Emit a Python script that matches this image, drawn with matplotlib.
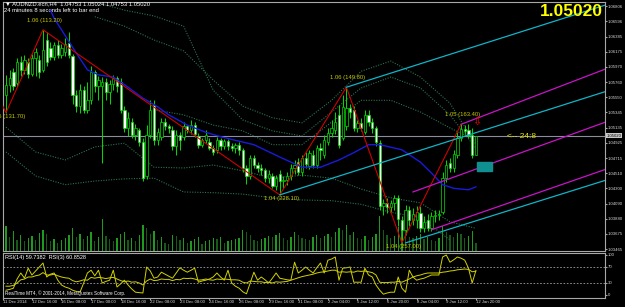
import numpy as np
import matplotlib.pyplot as plt
from matplotlib.patches import Rectangle

plt.rcParams['font.family'] = ['Liberation Sans', 'DejaVu Sans']

# AUDNZD H4 candles, one value per bar
opens = [
    1.0558, 1.0572, 1.0590, 1.0575, 1.0604, 1.0593, 1.0604, 1.0587, 1.0609, 1.0606,
    1.0593, 1.0634, 1.0623, 1.0611, 1.0627, 1.0613, 1.0617, 1.0630, 1.0612, 1.0558,
    1.0543, 1.0565, 1.0538, 1.0551, 1.0590, 1.0571, 1.0571, 1.0576, 1.0562, 1.0573,
    1.0582, 1.0576, 1.0538, 1.0513, 1.0521, 1.0503, 1.0510, 1.0494, 1.0447, 1.0503,
    1.0544, 1.0496, 1.0501, 1.0521, 1.0515, 1.0510, 1.0488, 1.0503, 1.0501, 1.0515,
    1.0510, 1.0517, 1.0502, 1.0490, 1.0496, 1.0494, 1.0485, 1.0483, 1.0496, 1.0488,
    1.0495, 1.0488, 1.0485, 1.0490, 1.0483, 1.0458, 1.0447, 1.0472, 1.0462, 1.0458,
    1.0455, 1.0444, 1.0447, 1.0433, 1.0450, 1.0440, 1.0441, 1.0447, 1.0458, 1.0466,
    1.0452, 1.0472, 1.0461, 1.0476, 1.0462, 1.0485, 1.0476, 1.0494, 1.0506, 1.0510,
    1.0531, 1.0499, 1.0515, 1.0540, 1.0538, 1.0513, 1.0520, 1.0507, 1.0531, 1.0521,
    1.0513, 1.0492, 1.0406, 1.0410, 1.0404, 1.0410, 1.0417, 1.0386, 1.0373, 1.0400,
    1.0386, 1.0386, 1.0396, 1.0375, 1.0386, 1.0375, 1.0392, 1.0393, 1.0397, 1.0444,
    1.0465, 1.0458, 1.0476, 1.0499, 1.0512, 1.0510, 1.0503, 1.04753]
closes = [
    1.0572, 1.0582, 1.0571, 1.0604, 1.0593, 1.0606, 1.0587, 1.0609, 1.0617, 1.0590,
    1.0620, 1.0604, 1.0611, 1.0627, 1.0613, 1.0623, 1.0628, 1.0613, 1.0558, 1.0543,
    1.0565, 1.0538, 1.0551, 1.0590, 1.0571, 1.0579, 1.0576, 1.0562, 1.0573, 1.0582,
    1.0571, 1.0538, 1.0513, 1.0527, 1.0503, 1.0513, 1.0494, 1.0444, 1.0503, 1.0538,
    1.0496, 1.0507, 1.0521, 1.0515, 1.0513, 1.0488, 1.0503, 1.0496, 1.0515, 1.0510,
    1.0517, 1.0505, 1.0490, 1.0496, 1.0503, 1.0485, 1.0480, 1.0496, 1.0488, 1.0495,
    1.0488, 1.0485, 1.0490, 1.0483, 1.0458, 1.0447, 1.0472, 1.0462, 1.0458, 1.0455,
    1.0444, 1.0450, 1.0433, 1.0444, 1.0440, 1.0441, 1.0447, 1.0458, 1.0462, 1.0452,
    1.0472, 1.0464, 1.0479, 1.0462, 1.0485, 1.0483, 1.0496, 1.0506, 1.0513, 1.0521,
    1.0490, 1.0542, 1.0540, 1.0535, 1.0513, 1.0520, 1.0513, 1.0531, 1.0521, 1.0513,
    1.0494, 1.0406, 1.0410, 1.0404, 1.0410, 1.0417, 1.0388, 1.0373, 1.0400, 1.0386,
    1.0395, 1.0397, 1.0375, 1.0384, 1.0375, 1.0392, 1.0393, 1.0395, 1.0444, 1.0462,
    1.0458, 1.0477, 1.0499, 1.0512, 1.0509, 1.0503, 1.0476, 1.05020]
highs = [
    1.0586, 1.0593, 1.0595, 1.0609, 1.0612, 1.0613, 1.0609, 1.0615, 1.0623, 1.0613,
    1.0648, 1.0645, 1.0631, 1.0631, 1.0634, 1.0628, 1.0637, 1.0645, 1.0615, 1.0565,
    1.0573, 1.0571, 1.0576, 1.0598, 1.0593, 1.0584, 1.0583, 1.0582, 1.0579, 1.0586,
    1.0584, 1.0582, 1.0543, 1.0535, 1.0527, 1.0518, 1.0513, 1.0499, 1.0517, 1.0551,
    1.0551, 1.0513, 1.0527, 1.0527, 1.0518, 1.0515, 1.0510, 1.0507, 1.0521, 1.0517,
    1.0524, 1.0521, 1.0506, 1.0499, 1.0510, 1.0499, 1.0490, 1.0501, 1.0499, 1.0498,
    1.0498, 1.0492, 1.0492, 1.0494, 1.0485, 1.0462, 1.0476, 1.0476, 1.0466, 1.0464,
    1.0458, 1.0455, 1.0451, 1.0448, 1.0455, 1.0447, 1.0452, 1.0464, 1.0469, 1.0472,
    1.0476, 1.0480, 1.0483, 1.0483, 1.0490, 1.0492, 1.0503, 1.0513, 1.0524, 1.0535,
    1.0544, 1.0558, 1.0569, 1.0546, 1.0543, 1.0524, 1.0527, 1.0538, 1.0538, 1.0527,
    1.0516, 1.0496, 1.0415, 1.0417, 1.0414, 1.0421, 1.0421, 1.0392, 1.0407, 1.0406,
    1.0403, 1.0406, 1.0406, 1.0392, 1.0395, 1.0397, 1.0400, 1.0400, 1.0452, 1.0469,
    1.0472, 1.0483, 1.0507, 1.0518, 1.0517, 1.0518, 1.0513, 1.05024]
lows = [
    1.0534, 1.0562, 1.0565, 1.0571, 1.0584, 1.0587, 1.0582, 1.0584, 1.0584, 1.0582,
    1.0590, 1.0598, 1.0606, 1.0606, 1.0609, 1.0609, 1.0612, 1.0609, 1.0546, 1.0535,
    1.0534, 1.0534, 1.0534, 1.0546, 1.0562, 1.0551, 1.0465, 1.0551, 1.0546, 1.0565,
    1.0562, 1.0534, 1.0507, 1.0502, 1.0499, 1.0496, 1.0488, 1.0440, 1.0443, 1.0499,
    1.0490, 1.0490, 1.0496, 1.0510, 1.0506, 1.0483, 1.0476, 1.0483, 1.0496, 1.0506,
    1.0505, 1.0501, 1.0485, 1.0487, 1.0492, 1.0483, 1.0476, 1.0479, 1.0483, 1.0484,
    1.0483, 1.0481, 1.0479, 1.0476, 1.0452, 1.0436, 1.0443, 1.0458, 1.0452, 1.0448,
    1.0439, 1.0437, 1.0430, 1.0428, 1.0421, 1.0430, 1.0435, 1.0441, 1.0450, 1.0448,
    1.0447, 1.0458, 1.0457, 1.0458, 1.0458, 1.0469, 1.0472, 1.0490, 1.0501, 1.0505,
    1.0485, 1.0496, 1.0510, 1.0527, 1.0509, 1.0507, 1.0509, 1.0505, 1.0516, 1.0506,
    1.0488, 1.0400, 1.0393, 1.0396, 1.0397, 1.0400, 1.0378, 1.0355, 1.0366, 1.0378,
    1.0380, 1.0375, 1.0370, 1.0370, 1.0371, 1.0371, 1.0384, 1.0386, 1.0395, 1.0439,
    1.0452, 1.0452, 1.0472, 1.0495, 1.0505, 1.0499, 1.0472, 1.04753]
volumes = [
    2400, 1300, 1900, 1000, 1500, 900, 1200, 1400, 1000, 1700,
    2000, 1600, 900, 1100, 800, 1000, 1200, 1500, 2200, 1300,
    1600, 1100, 1400, 1800, 900, 1300, 3000, 1400, 1100, 900,
    1200, 1600, 1800, 1000, 1200, 900, 1500, 2500, 2200, 1600,
    1900, 1000, 1300, 800, 700, 1500, 1400, 1000, 1200, 800,
    900, 1100, 1300, 700, 900, 1000, 1200, 1100, 1300, 800,
    900, 1000, 1100, 1200, 2000, 1800, 1500, 1000, 900, 1100,
    1200, 1400, 1300, 1500, 1700, 1200, 1000, 1300, 1800, 1500,
    1200, 1100, 1000, 1300, 1500, 1200, 1400, 1600, 1300, 1800,
    2200, 2000, 2500, 1500, 1800, 1200, 1100, 1400, 1000, 1300,
    1600, 3300, 2000, 1500, 1200, 1400, 2300, 2600, 2000, 1300,
    1200, 1400, 1600, 1100, 1300, 1000, 900, 1200, 2400, 1800,
    1500, 1300, 1700, 1600, 1200, 1400, 1900, 800]
rsi14 = [
    22, 22, 24, 30, 38, 40, 45, 45, 48, 50,
    56, 50, 50, 52, 48, 45, 43, 42, 36, 33,
    35, 38, 37, 44, 42, 44, 43, 41, 43, 44,
    40, 36, 33, 35, 32, 33, 30, 25, 35, 40,
    36, 37, 40, 39, 39, 36, 39, 38, 42, 41,
    42, 40, 37, 38, 40, 38, 37, 40, 39, 40,
    39, 38, 38, 37, 32, 30, 35, 34, 33, 33,
    31, 32, 30, 33, 32, 33, 34, 37, 40, 43,
    46, 48, 50, 52, 55, 57, 58, 60, 62, 62,
    57, 58, 57, 58, 57, 60, 59, 60, 58, 56,
    50, 32, 31, 31, 32, 32, 34, 32, 36, 40,
    45, 48, 50, 53, 55, 55, 55, 55, 57, 58,
    60, 61, 63, 64, 65, 64, 58, 59.7382]
rsi3 = [
    12, 14, 17, 40, 55, 42, 67, 50, 60, 70,
    80, 45, 52, 55, 37, 25, 20, 17, 12, 9,
    7, 30, 55, 62, 48, 62, 30, 34, 37, 62,
    20, 28, 37, 25, 15, 7, 6, 5, 70, 60,
    42, 45, 57, 52, 47, 42, 55, 68, 62, 57,
    62, 67, 32, 35, 37, 40, 45, 55, 45, 37,
    62, 30, 22, 17, 8, 3, 30, 57, 37, 45,
    38, 30, 42, 55, 42, 40, 38, 37, 82, 55,
    62, 70, 62, 55, 68, 80, 55, 87, 90, 95,
    37, 67, 68, 70, 32, 32, 32, 67, 50, 45,
    25, 12, 2, 5, 7, 7, 45, 17, 7, 62,
    45, 37, 40, 42, 46, 50, 50, 50, 95, 100,
    82, 88, 95, 92, 87, 67, 30, 60.8528]

# blue moving average (bar, price)
ma_bars = [12, 13, 19, 22, 25, 29, 33, 37, 41, 44, 49, 54, 58, 62, 67, 74, 80, 85,
           90, 94, 98, 101, 107, 112, 115, 118, 121, 125, 127]
ma_vals = [1.0675, 1.0664, 1.0616, 1.0593, 1.0586, 1.0583, 1.0569, 1.0554, 1.0542,
           1.0531, 1.0517, 1.0507, 1.0501, 1.0496, 1.0490, 1.0473, 1.0459, 1.0459,
           1.0469, 1.0479, 1.0490, 1.0490, 1.0483, 1.0466, 1.0451, 1.0435, 1.0430,
           1.0428, 1.0432]

# dotted bands (sampled every 8 bars)
band_bars = [0, 8, 16, 24, 32, 40, 48, 56, 64, 72, 80, 88, 96, 104, 112, 120, 127]
band_up1 = [None, None, None, 1.0666, 1.0653, 1.0634, 1.0619, 1.0579, 1.0543, 1.0527,
            1.0520, 1.0551, 1.0591, 1.0605, 1.0583, 1.0547, 1.0490]
band_up2 = [None, None, None, 1.0686, 1.0675, 1.0667, 1.0653, 1.0565, 1.0524, 1.0509,
            1.0502, 1.0535, 1.0568, 1.0583, 1.0568, 1.0531, 1.0485]
band_up3 = [None, None, None, None, None, 1.0538, 1.0531, 1.0517, 1.0509, 1.0490,
            1.0490, 1.0521, 1.0551, 1.0551, 1.0535, 1.0513, 1.0496]
band_lo1 = [1.0514, 1.0480, 1.0469, 1.0487, 1.0492, 1.0459, 1.0458, 1.0462, 1.0454,
            1.0444, 1.0448, 1.0444, 1.0429, 1.0417, 1.0410, 1.0384, 1.0375]
band_lo2 = [1.0480, 1.0447, 1.0435, 1.0440, 1.0443, 1.0444, 1.0425, 1.0424, 1.0422,
            1.0417, 1.0414, 1.0413, 1.0408, 1.0397, 1.0390, 1.0359, None]

# zigzag swings
zz_bars = [-4, 0, 10, 74, 92, 107, 123]
zz_vals = [1.0575, 1.0534, 1.0648, 1.0421, 1.0569, 1.0355, 1.0518]
zz_labels = ['', '1.05 (131.70)', '1.06 (113.20)', '1.04 (228.10)', '1.06 (149.80)',
             '1.04 (257.00)', '1.05 (163.40)']

# channels: (bar0, price0, bar1, price1)
cyan_lines = [(92, 1.0569, 162, 1.0682), (74, 1.0421, 162, 1.0563), (108, 1.0355, 162, 1.0441)]
magenta_lines = [(123, 1.0518, 162, 1.0594), (110, 1.0425, 162, 1.0521), (115, 1.0373, 162, 1.0456)]

price_ticks = [1.06806, 1.06596, 1.06385, 1.06175, 1.05970, 1.05760, 1.05550, 1.05345,
               1.05135, 1.04925, 1.04715, 1.04510, 1.04300, 1.04090, 1.03880, 1.03675, 1.03465]
time_ticks = [-0.8, 7, 15, 23, 31, 39, 47, 55, 63, 71, 79, 87, 95, 103, 111, 119, 127]
time_labels = ['11 Dec 2014', '12 Dec 16:00', '16 Dec 08:00', '17 Dec 00:00', '18 Dec 16:00',
               '22 Dec 08:00', '23 Dec 08:00', '24 Dec 16:00', '26 Dec 08:00', '29 Dec 16:00',
               '31 Dec 08:00', '2 Jan 04:00', '5 Jan 12:00', '6 Jan 20:00', '8 Jan 04:00',
               '9 Jan 12:00', '12 Jan 20:00']
rsi_ticks = [100, 70, 30, 0]
last_price = 1.05020

GREEN = '#00e000'
FRAME = '#a8a8a8'
TXT = '#d8d8d8'
XMIN, XMAX = -0.81, 161.9
SMALL = 3.1

fig = plt.figure(figsize=(6.25, 3.07), dpi=100, facecolor='black')
main_rect = [3 / 625, 56 / 307, 602 / 625, 249 / 307]
ax_vol = fig.add_axes(main_rect)
ax = fig.add_axes(main_rect)
axr = fig.add_axes([3 / 625, 9.5 / 307, 602 / 625, 45 / 307])

o = np.array(opens)
c = np.array(closes)
h = np.array(highs)
l = np.array(lows)
bars = np.arange(len(c))

# volume histogram at the bottom of the price panel
ax_vol.set_facecolor('black')
vol = np.array(volumes)
rising = np.r_[True, vol[1:] >= vol[:-1]]
ax_vol.bar(bars, vol, width=0.35, color=np.where(rising, '#1f9a1f', '#175a17'))
ax_vol.set_xlim(XMIN, XMAX)
ax_vol.set_ylim(0, 23500)
ax_vol.axis('off')

ax.set_facecolor('none')
ax.set_xlim(XMIN, XMAX)
ax.set_ylim(1.03438, 1.06862)

# bands and moving average
for band in [band_up1, band_up2, band_up3, band_lo1, band_lo2]:
    bx = [b for b, v in zip(band_bars, band) if v is not None]
    by = [v for v in band if v is not None]
    ax.plot(bx, by, color='#2a7350', lw=0.8, ls=(0, (1, 1.3)), zorder=2)
ax.plot(ma_bars, ma_vals, color='#1a1adc', lw=1.0, zorder=4)

# candles
up = c >= o
body_lo = np.minimum(o, c)
body_h = np.maximum(np.abs(c - o), 0.00004)
ax.vlines(bars, l, h, color=GREEN, lw=0.7, zorder=3)
ax.bar(bars[up], body_h[up], bottom=body_lo[up], width=0.62, color='black',
       edgecolor=GREEN, lw=0.5, zorder=3)
ax.bar(bars[~up], body_h[~up], bottom=body_lo[~up], width=0.62, color='white',
       edgecolor=GREEN, lw=0.5, zorder=3)

# zigzag
ax.plot(zz_bars, zz_vals, color='#d00000', lw=0.8, zorder=4)
for k in range(1, len(zz_bars)):
    above = zz_vals[k] > zz_vals[k - 1]
    ax.annotate(zz_labels[k], (zz_bars[k], zz_vals[k]), xytext=(1, 5 if above else -1),
                textcoords='offset points', ha='center', va='bottom' if above else 'top',
                color='#c8c800', fontsize=4.2, zorder=6, annotation_clip=False).set_clip_on(True)

for x0, y0, x1, y1 in cyan_lines:
    ax.plot([x0, x1], [y0, y1], color='#10b4c8', lw=0.9, zorder=4)
for x0, y0, x1, y1 in magenta_lines:
    ax.plot([x0, x1], [y0, y1], color='#c814c8', lw=0.9, zorder=4)

ax.axhline(last_price, color='#8c8ca0', lw=0.8, zorder=2)
ax.add_patch(Rectangle((127.3, 1.0454), 4.0, 0.0012, color='#0f8f8f', zorder=5))
ax.text(127.2, 1.0522, '\u21e9', color='red', fontsize=8, ha='center', va='center',
        family='DejaVu Sans', zorder=6)
ax.text(135.4, 1.0501, '<-- 24:8', color='#e6e600', fontsize=6, ha='left', va='center', zorder=6)

ax.text(0.004, 0.992, '\u25bc AUDNZD.ecn,H4  1.04753 1.05024 1.04753 1.05020',
        transform=ax.transAxes, color='white', fontsize=4.2, va='center', ha='left')
ax.text(0.002, 0.964, '24 minutes 8 seconds left to bar end',
        transform=ax.transAxes, color='white', fontsize=4.2, va='center', ha='left')
ax.text(0.9967, 0.962, f'{last_price:.5f}', transform=ax.transAxes, color='#ffff00',
        fontsize=12.5, fontweight='bold', ha='right', va='center', zorder=7)

ax.yaxis.tick_right()
ax.set_yticks(price_ticks)
ax.set_yticklabels([f'{p:.5f}' for p in price_ticks])
ax.set_xticks([])
ax.tick_params(axis='y', colors=FRAME, labelcolor=TXT, labelsize=SMALL, length=1.5, pad=0.6)
ax.text(1.002, last_price, f'{last_price:.5f}', transform=ax.get_yaxis_transform(),
        fontsize=SMALL, color='black', ha='left', va='center',
        bbox=dict(boxstyle='square,pad=0.12', fc='#c8c8c8', ec='none'))
for s in ax.spines.values():
    s.set_color(FRAME)

# RSI panel
axr.set_facecolor('black')
axr.plot(bars, rsi14, color='#d2d200', lw=0.7)
axr.plot(bars, rsi3, color='#d2d200', lw=0.7)
for lvl in (70, 30):
    axr.axhline(lvl, color='#a0a0a0', lw=0.6, ls=(0, (2, 2)))
axr.set_xlim(XMIN, XMAX)
axr.set_ylim(-6.25, 106.25)
axr.yaxis.tick_right()
axr.set_yticks(rsi_ticks)
axr.set_yticklabels([str(t) for t in rsi_ticks])
axr.set_xticks(time_ticks)
axr.set_xticklabels(time_labels, ha='left')
axr.tick_params(colors=FRAME, labelcolor=TXT, labelsize=SMALL, length=1.5, pad=0.6)
for s in axr.spines.values():
    s.set_color(FRAME)
axr.text(0.004, 0.9, f'RSI(14) {rsi14[-1]:.4f}  RSI(3) {rsi3[-1]:.4f}', transform=axr.transAxes,
         color='white', fontsize=4.0, va='center', ha='left')
axr.text(0.004, 0.1, 'RealTime MT4, \u00a9 2001-2014, MetaQuotes Software Corp.',
         transform=axr.transAxes, color='white', fontsize=3.3, va='center', ha='left')

fig.savefig('out.png', dpi=100, facecolor='black')
